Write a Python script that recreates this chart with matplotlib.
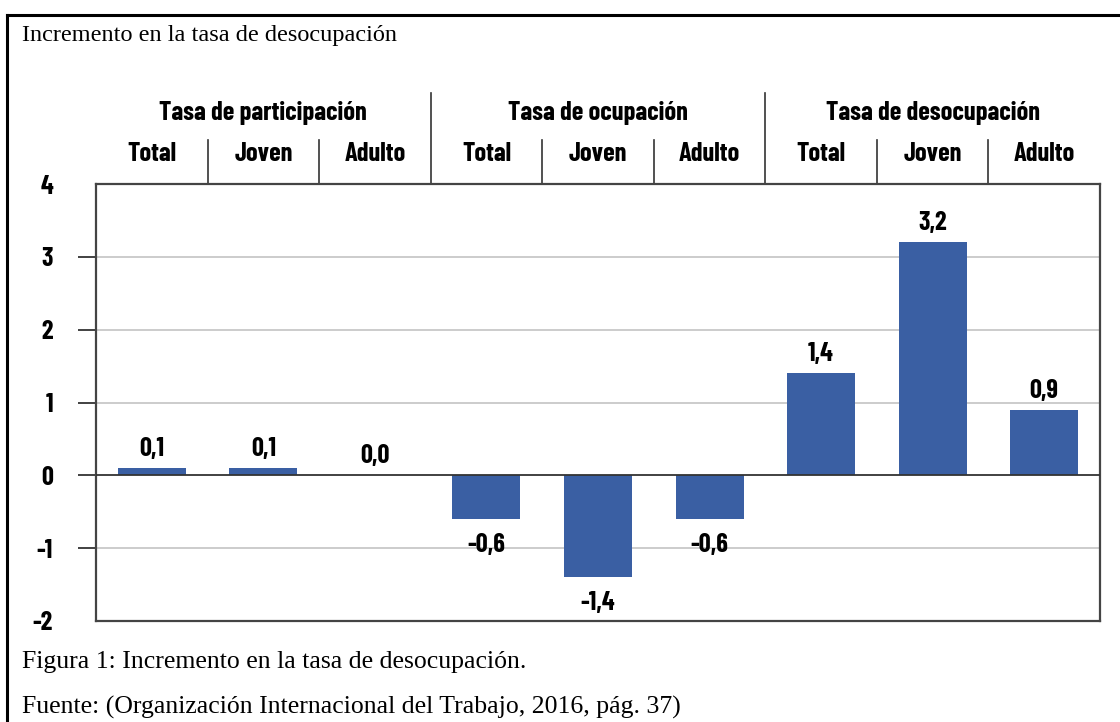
import numpy as np
import matplotlib
matplotlib.use('Agg')
import matplotlib.pyplot as plt
from matplotlib.lines import Line2D

groups = ['Tasa de participación', 'Tasa de ocupación', 'Tasa de desocupación']
subcats = ['Total', 'Joven', 'Adulto']
values = [0.1, 0.1, 0.0, -0.6, -1.4, -0.6, 1.4, 3.2, 0.9]
labels = ['0,1', '0,1', '0,0', '-0,6', '-1,4', '-0,6', '1,4', '3,2', '0,9']
yticks = [-2, -1, 0, 1, 2, 3, 4]

W, H = 1120, 722
bar_col = '#3a5fa3'
cond = ['Barlow Condensed', 'DejaVu Sans']
serif = ['Liberation Serif', 'DejaVu Serif']
fs = 19

fig = plt.figure(figsize=(W / 100, H / 100), dpi=100)
ax = fig.add_axes([96 / W, 1 - 621 / H, (1100 - 96) / W, (621 - 184) / H])

x = np.arange(len(values))
ax.bar(x, values, width=0.61, color=bar_col, zorder=3)
ax.set_xlim(-0.5, len(values) - 0.5)
ax.set_ylim(-2, 4)

# grid + zero line
for v in [-1, 1, 2, 3]:
    ax.axhline(v, color='#c8c8c8', lw=1.3, zorder=1)
ax.axhline(0, color='#333333', lw=1.3, zorder=4)

for s in ax.spines.values():
    s.set_color('#444444')
    s.set_linewidth(1.6)

ax.set_xticks([])
ax.set_yticks(yticks)
ax.set_yticklabels([str(t) for t in yticks], family=cond, fontweight='bold', fontsize=fs)
ax.tick_params(axis='y', length=13, width=1.3, color='#333333', pad=18)
ticklines = ax.yaxis.get_ticklines()
for i, t in enumerate(yticks):
    if t in (-2, 4):
        ticklines[2 * i].set_visible(False)
        ticklines[2 * i + 1].set_visible(False)
lbls = ax.get_yticklabels()
lbls[0].set_y(-2.1)
lbls[-1].set_y(4.02)

# value labels
for xi, v, lab in zip(x, values, labels):
    if v >= 0:
        ax.annotate(lab, (xi, v), xytext=(0, 5), textcoords='offset points',
                    ha='center', va='bottom', family=cond, fontweight='bold', fontsize=fs)
    else:
        ax.annotate(lab, (xi, v), xytext=(0, -10), textcoords='offset points',
                    ha='center', va='top', family=cond, fontweight='bold', fontsize=fs)

# header
tr = ax.get_xaxis_transform()
h = 621 - 184
for i in range(len(values)):
    ax.text(i, 1 + (184 - 154) / h, subcats[i % 3], transform=tr, ha='center', va='center',
            family=cond, fontweight='bold', fontsize=fs)
for g, name in enumerate(groups):
    ax.text(3 * g + 1, 1 + (184 - 113) / h, name, transform=tr, ha='center', va='center',
            family=cond, fontweight='bold', fontsize=fs)
for b in range(1, len(values)):
    top = 93 if b % 3 == 0 else 140
    ax.plot([b - 0.5, b - 0.5], [1, 1 + (184 - top) / h], transform=tr, color='#333333',
            lw=1.2, clip_on=False)

# outer frame and captions
fig.add_artist(Line2D([7 / W, 7 / W], [0, 1 - 15 / H], color='black', lw=2.2))
fig.add_artist(Line2D([7 / W, 1], [1 - 15 / H, 1 - 15 / H], color='black', lw=2.2))
fig.text(22 / W, 1 - 36 / H, 'Incremento en la tasa de desocupación', family=serif,
         fontsize=17.5, va='center', ha='left')
fig.text(22 / W, 1 - 662 / H, 'Figura 1: Incremento en la tasa de desocupación.', family=serif,
         fontsize=18.5, va='center', ha='left')
fig.text(22 / W, 1 - 707 / H, 'Fuente: (Organización Internacional del Trabajo, 2016, pág. 37)',
         family=serif, fontsize=18.5, va='center', ha='left')

fig.savefig('out.png', dpi=100)
